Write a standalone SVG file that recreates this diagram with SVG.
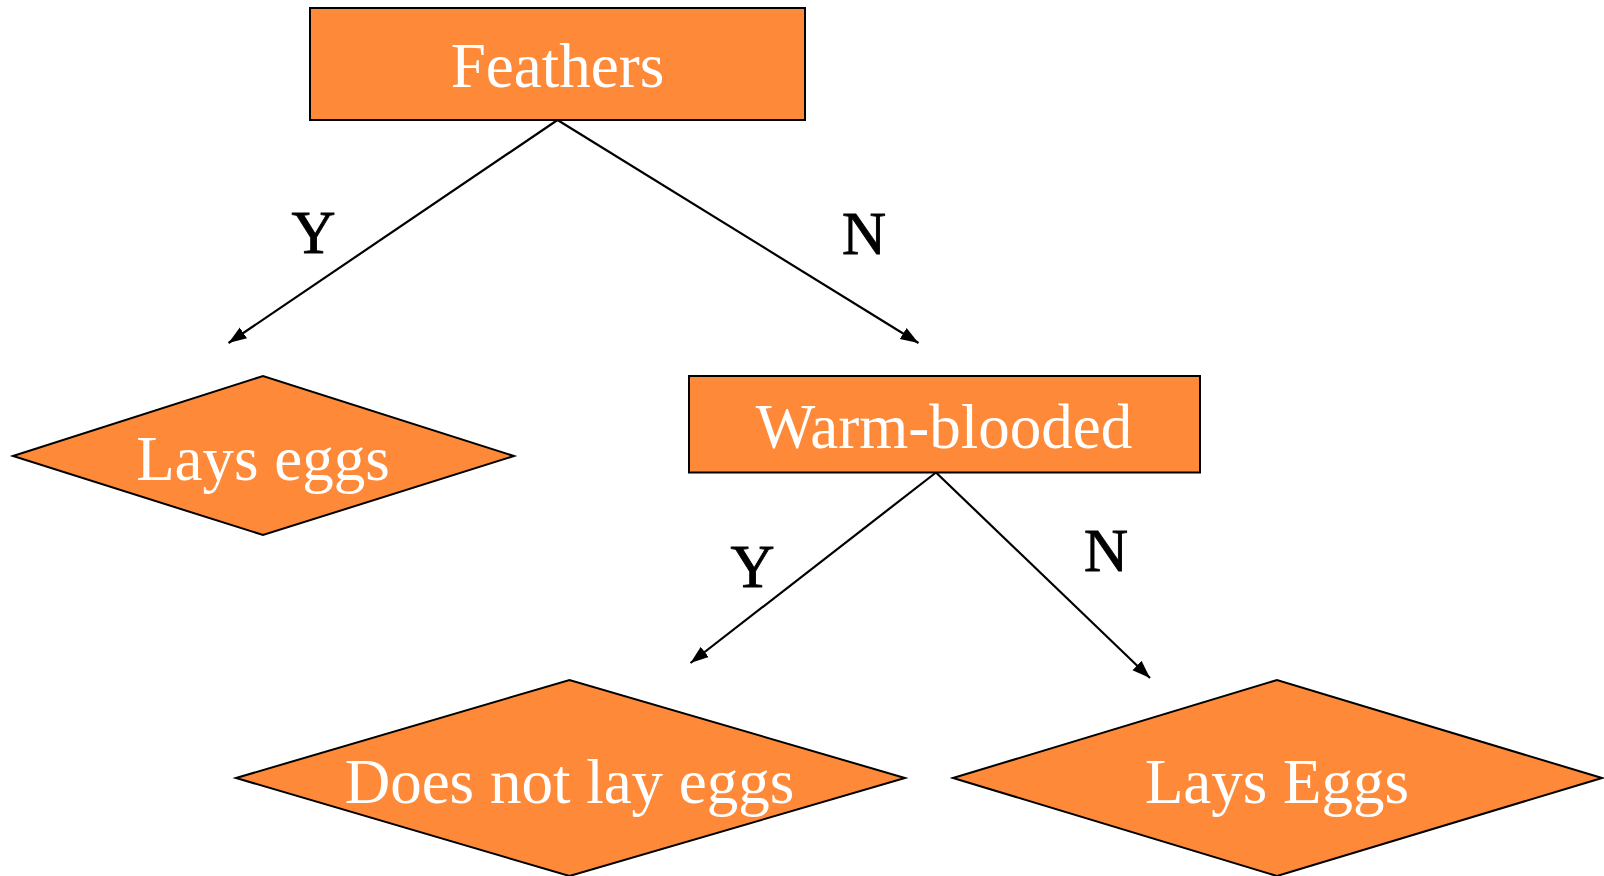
<svg xmlns="http://www.w3.org/2000/svg" width="1604" height="876" viewBox="0 0 1604 876">
  <defs>
    <marker id="arrow" markerUnits="userSpaceOnUse" markerWidth="19" markerHeight="15" viewBox="0 0 19 15" refX="18" refY="7.5" orient="auto">
      <path d="M0,1 L18,7.5 L0,14 Z" fill="#000"/>
    </marker>
    <style>
      .box { fill: #FE8A39; stroke: #000; stroke-width: 2; }
      .label { font-family: "Liberation Serif", "Times New Roman", serif; font-size: 63px; fill: #fff; text-anchor: middle; }
      .edge { stroke: #000; stroke-width: 2.2; fill: none; marker-end: url(#arrow); }
      .edge-label { font-family: "Liberation Serif", "Times New Roman", serif; font-size: 61px; fill: #000; stroke: #000; stroke-width: 0.9; text-anchor: middle; }
    </style>
  </defs>

  <rect width="1604" height="876" fill="#fff"/>

  <!-- connectors -->
  <g id="connectors">
    <line class="edge" x1="557.5" y1="120" x2="228.5" y2="343"/>
    <line class="edge" x1="557.5" y1="120" x2="918.5" y2="343"/>
    <line class="edge" x1="936" y1="472.5" x2="690.5" y2="663"/>
    <line class="edge" x1="936" y1="472.5" x2="1150" y2="678"/>
    <text class="edge-label" x="313.5" y="253">Y</text>
    <text class="edge-label" x="864" y="254">N</text>
    <text class="edge-label" x="752.5" y="587">Y</text>
    <text class="edge-label" x="1106" y="571">N</text>
  </g>

  <!-- decision: feathers -->
  <g id="feathers">
    <rect class="box" x="310" y="8" width="495" height="112"/>
    <text class="label" x="557.5" y="87">Feathers</text>
  </g>

  <!-- outcome: lays eggs (birds) -->
  <g id="lays-eggs">
    <polygon class="box" points="13,456 263,376 514,456 263,535"/>
    <text class="label" x="263" y="480">Lays eggs</text>
  </g>

  <!-- decision: warm-blooded -->
  <g id="warm-blooded">
    <rect class="box" x="689" y="376" width="511" height="96.5"/>
    <text class="label" x="944" y="448">Warm-blooded</text>
  </g>

  <!-- outcome: does not lay eggs -->
  <g id="does-not-lay-eggs">
    <polygon class="box" points="236,778 569.5,680 905,778 569.5,876"/>
    <text class="label" x="569.5" y="803">Does not lay eggs</text>
  </g>

  <!-- outcome: lays eggs (cold-blooded) -->
  <g id="lays-eggs-2">
    <polygon class="box" points="953,778 1277,680 1602,778 1277,876"/>
    <text class="label" x="1277" y="803">Lays Eggs</text>
  </g>
</svg>
